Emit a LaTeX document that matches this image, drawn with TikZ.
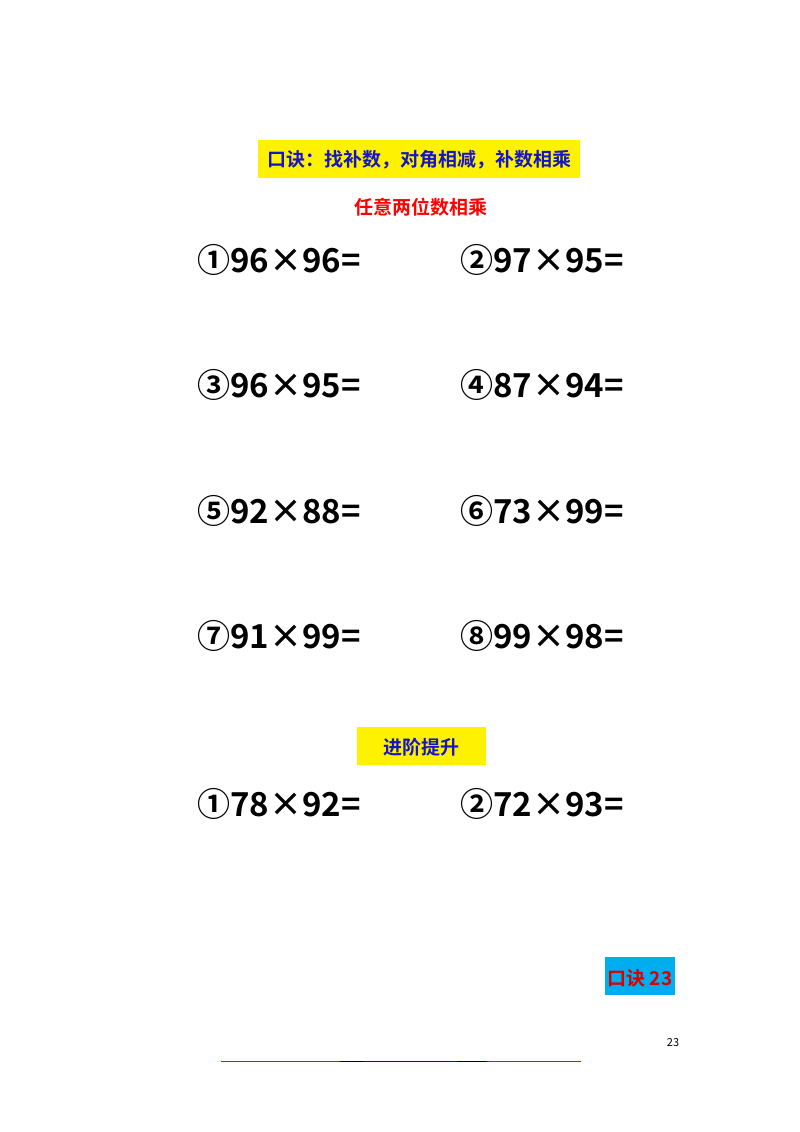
\documentclass[tikz,border=0pt]{standalone}
\usepackage{fontspec}
\setmainfont{Noto Sans CJK SC}[BoldFont={* Bold}]
\newfontfamily\cjkb{Noto Sans CJK SC Bold}
\newfontfamily\cjk{Noto Sans CJK SC}
\definecolor{hblue}{RGB}{20,20,200}
\begin{document}
\begin{tikzpicture}[x=1pt,y=-1pt,
  expr/.style={anchor=west,inner sep=0,font=\cjkb\fontsize{33}{36}\selectfont},
  lbl/.style={inner sep=0,font=\cjkb\fontsize{19}{22}\selectfont}]
\useasboundingbox[fill=white] (0,0) rectangle (800,1132);
\fill[yellow] (258,140) rectangle (580,178);
\node[lbl,text=hblue] (h) at (419,160) {口诀：找补数，对角相减，补数相乘};
\node[lbl,text=red] (s) at (421,207) {任意两位数相乘};
\node[expr] (e1) at (197,260) {①96×96=};
\node[expr] (e2) at (460,260) {②97×95=};
\node[expr] (e3) at (197,385) {③96×95=};
\node[expr] (e4) at (460,385) {④87×94=};
\node[expr] (e5) at (197,511) {⑤92×88=};
\node[expr] (e6) at (460,511) {⑥73×99=};
\node[expr] (e7) at (197,636) {⑦91×99=};
\node[expr] (e8) at (460,636) {⑧99×98=};
\fill[yellow] (357,727) rectangle (486,765);
\node[lbl,text=hblue] (j) at (421,747) {进阶提升};
\node[expr] (f1) at (197,804) {①78×92=};
\node[expr] (f2) at (460,804) {②72×93=};
\fill[cyan] (605,957) rectangle (675,995);
\node[lbl,text=red!85!black] (k) at (640,978) {口诀 23};
\node[inner sep=0,font=\cjk\fontsize{11}{12}\selectfont] (p) at (673,1043) {23};
\draw[red,line width=1] (221,1061) -- (340,1061);
\draw[black,line width=1] (340,1061) -- (363,1061);
\draw[blue,line width=1] (363,1061) -- (458,1061);
\draw[black,line width=1] (458,1061) -- (487,1061);
\draw[red,line width=1] (487,1061) -- (581,1061);
\end{tikzpicture}
\end{document}
